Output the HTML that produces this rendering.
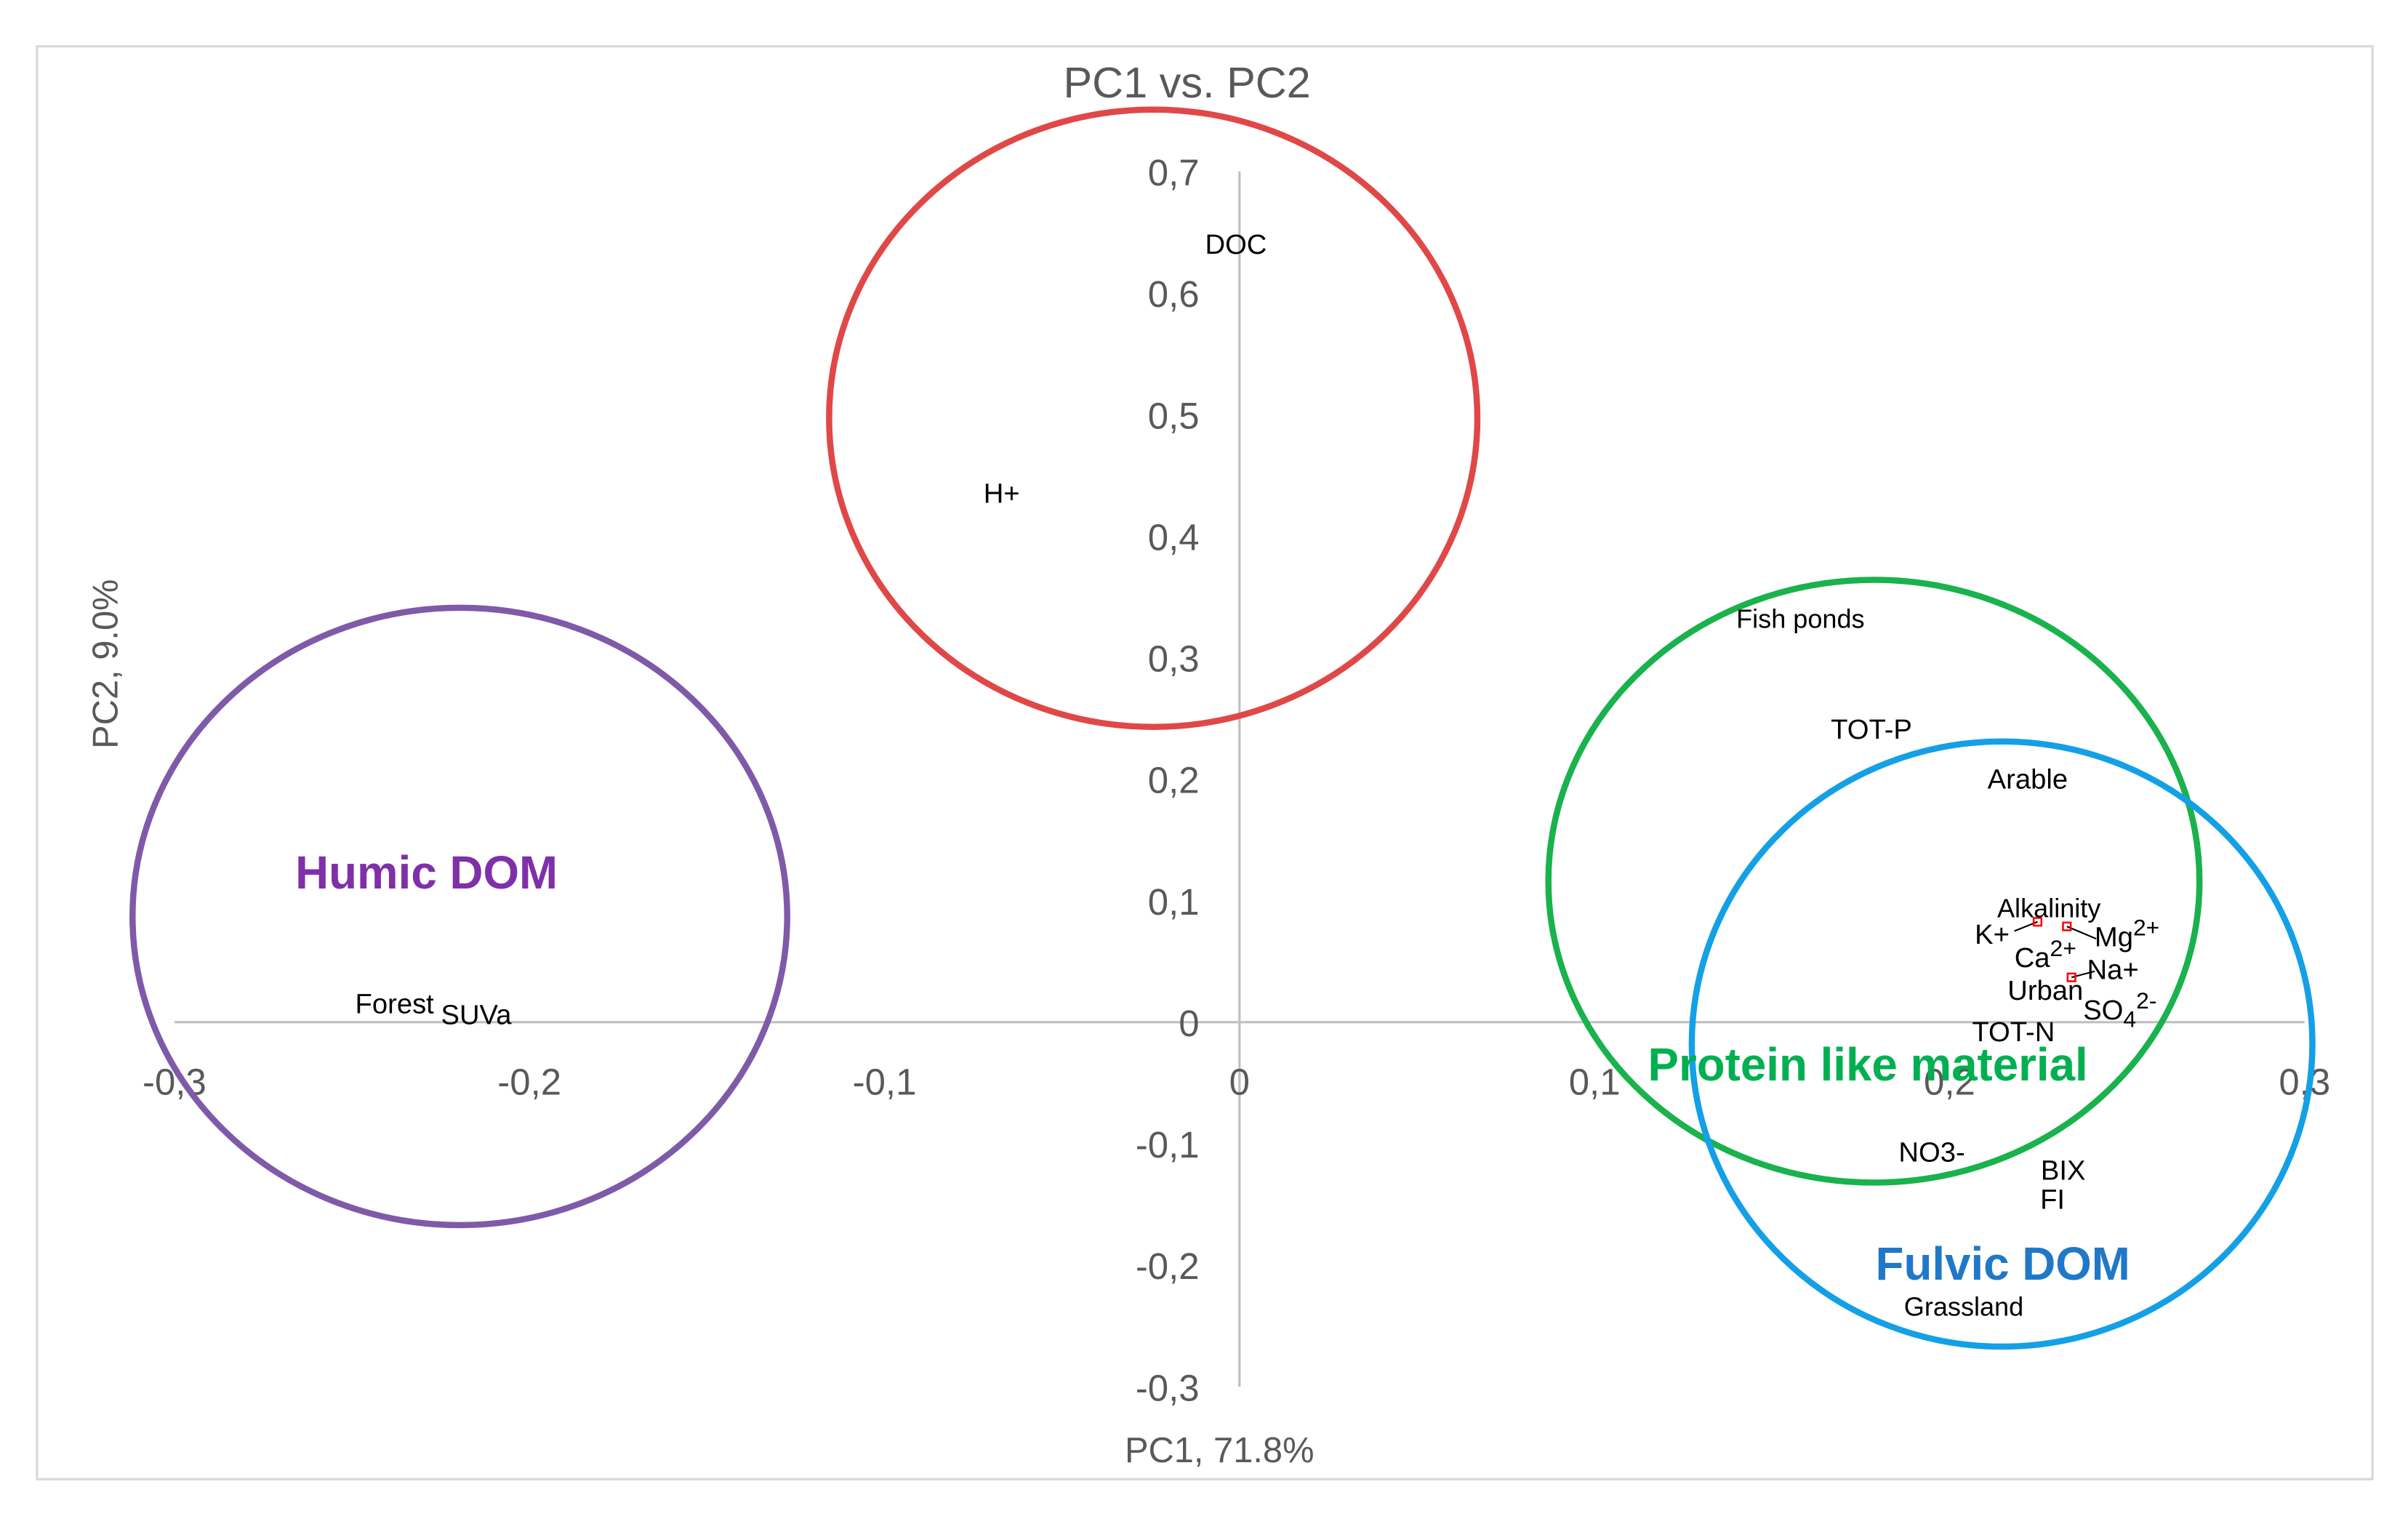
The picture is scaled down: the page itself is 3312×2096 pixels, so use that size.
<!DOCTYPE html>
<html><head><meta charset="utf-8"><style>
html,body{margin:0;padding:0;background:#fff;}
svg{display:block;font-family:"Liberation Sans",sans-serif;}
</style></head><body>
<svg id="chart" width="3312" height="2096" viewBox="0 0 1560 987" preserveAspectRatio="none" xmlns="http://www.w3.org/2000/svg">
<rect x="24" y="30" width="1513" height="928" fill="#fff" stroke="#d9d9d9" stroke-width="1.5"/>
<text x="769" y="63" text-anchor="middle" font-size="28" fill="#595959">PC1 vs. PC2</text>
<text x="790" y="947" text-anchor="middle" font-size="23" fill="#595959">PC1, 71.8%</text>
<text transform="translate(76,430) rotate(-90)" text-anchor="middle" font-size="23" fill="#595959">PC2, 9.0%</text>
<g id="axes"></g>
<g id="groups"></g>
<g id="points"></g>
</svg>
<script>
const xTicks=[-0.3,-0.2,-0.1,0,0.1,0.2,0.3];
const xTickLabels=["-0,3","-0,2","-0,1","0","0,1","0,2","0,3"];
const yTicks=[0.7,0.6,0.5,0.4,0.3,0.2,0.1,0,-0.1,-0.2,-0.3];
const yTickLabels=["0,7","0,6","0,5","0,4","0,3","0,2","0,1","0","-0,1","-0,2","-0,3"];
const pointNames=["DOC","H+","Forest","SUVa","Fish ponds","TOT-P","Arable","Alkalinity","K+","Mg2+","Ca2+","Na+","Urban","SO42-","TOT-N","NO3-","BIX","FI","Grassland"];
const pointPC1=[-0.001,-0.067,-0.238,-0.215,0.158,0.178,0.222,0.228,0.212,0.250,0.227,0.246,0.227,0.248,0.218,0.195,0.232,0.229,0.204];
const pointPC2=[0.640,0.435,0.015,0.006,0.332,0.241,0.200,0.094,0.072,0.070,0.053,0.043,0.026,0.010,-0.008,-0.107,-0.122,-0.146,-0.234];
const groupNames=["Humic DOM","Protein like material","Fulvic DOM"];
const groupLabelPC1=[-0.229,0.177,0.215];
const groupLabelPC2=[0.110,-0.048,-0.212];
const ellipseNames=["ellipse-red","ellipse-humic","ellipse-protein","ellipse-fulvic"];
const ellipseCX=[-0.0243,-0.2196,0.1787,0.2148];
const ellipseCY=[0.497,0.087,0.116,-0.018];
const ellipseRX=[0.0913,0.0922,0.0917,0.0874];
const ellipseRY=[0.254,0.254,0.248,0.249];
const ellipseColors=["#e04848","#7f5aa8","#19b24c","#14a0e6"];
const groupColors=["#7f30a8","#00b050","#1f78c8"];

const X=v=>803+v*2300;
const Y=v=>662-v*787;
const NS="http://www.w3.org/2000/svg";
function mk(tag,parent,attrs){const e=document.createElementNS(NS,tag);for(const k in attrs)e.setAttribute(k,attrs[k]);parent.appendChild(e);return e;}
const axes=document.getElementById('axes');
let l=mk('line',axes,{x1:X(-0.3),x2:X(0.3),y1:Y(0),y2:Y(0),stroke:'#bfbfbf','stroke-width':1.5});


l=mk('line',axes,{x1:X(0),x2:X(0),y1:Y(0.7),y2:Y(-0.3),stroke:'#bfbfbf','stroke-width':1.5});


xTicks.forEach((v,i)=>{const t=mk('text',axes,{x:X(v),y:Y(0)+47,'text-anchor':'middle','font-size':24,fill:'#595959'});t.textContent=xTickLabels[i];

});
yTicks.forEach((v,i)=>{const t=mk('text',axes,{x:777,y:Y(v)+9,'text-anchor':'end','font-size':24,fill:'#595959'});t.textContent=yTickLabels[i];

});
const groups=document.getElementById('groups');
ellipseCX.forEach((c,i)=>{const e=mk('ellipse',groups,{cx:X(c),cy:Y(ellipseCY[i]),rx:ellipseRX[i]*2300,ry:ellipseRY[i]*787,fill:'none',stroke:ellipseColors[i],'stroke-width':4});

});
groupNames.forEach((g,i)=>{const t=mk('text',groups,{x:X(groupLabelPC1[i]),y:Y(groupLabelPC2[i]),'text-anchor':'middle','font-size':30,'font-weight':'bold',fill:groupColors[i]});t.textContent=g;

});
const pts=document.getElementById('points');
[[1320,597,1305,603],[1339,600,1358,608],[1342,633,1357,629]].forEach(a=>{
 const ln=mk('line',pts,{x1:a[0],y1:a[1],x2:a[2],y2:a[3],stroke:'#000','stroke-width':1});
 
 
 const r=mk('rect',pts,{x:a[0]-2.5,y:a[1]-2.5,width:5,height:5,fill:'none',stroke:'#f00','stroke-width':1.2});
 
 });
pointNames.forEach((n,i)=>{const t=mk('text',pts,{x:X(pointPC1[i]),y:Y(pointPC2[i])+6,'text-anchor':'middle','font-size':n.length>6?17:18,fill:'#000'});
 if(n==='Mg2+'||n==='Ca2+'){t.innerHTML=n.slice(0,2)+'<tspan dy="-7" font-size="15">2+</tspan>';}
 else if(n==='SO42-'){t.innerHTML='SO<tspan dy="5" font-size="15">4</tspan><tspan dy="-12" font-size="15">2-</tspan>';}
 else t.textContent=n;
 
 });
</script>
</body></html>
